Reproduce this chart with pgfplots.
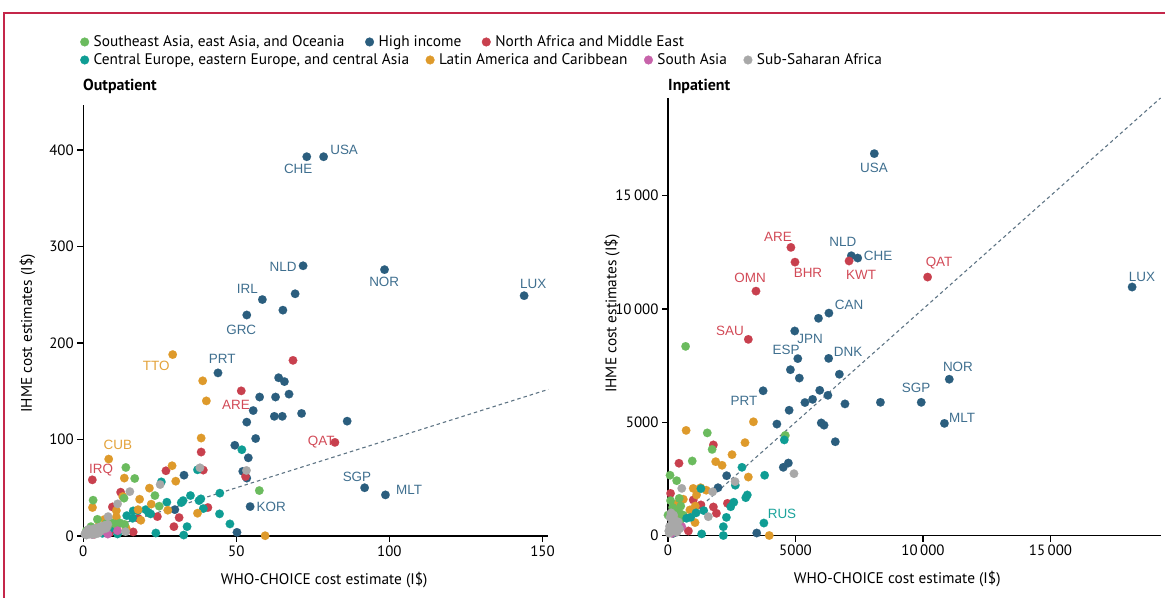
\documentclass[border=0pt]{standalone}
\usepackage{fontspec}
\setmainfont{PT Sans}
\newfontfamily\lab{Liberation Sans}
\usepackage{pgfplots}
\pgfplotsset{compat=1.18}
\definecolor{cSEA}{HTML}{6BBB5E}
\definecolor{cHI}{HTML}{2B5E7E}
\definecolor{cNAME}{HTML}{C8404E}
\definecolor{cCEE}{HTML}{0F9D94}
\definecolor{cLAC}{HTML}{DE9A2B}
\definecolor{cSA}{HTML}{C763AA}
\definecolor{cSSA}{HTML}{A8A8A8}
\definecolor{lHI}{HTML}{3F6F8F}
\definecolor{lNAME}{HTML}{D24A57}
\definecolor{lLAC}{HTML}{E3A23A}
\definecolor{lCEE}{HTML}{1BA39B}
\definecolor{cDash}{HTML}{5E7484}
\definecolor{cFrame}{HTML}{C4264A}
\tikzset{lbl/.style={font=\lab\fontsize{13.5}{14}\selectfont, inner sep=0pt}}
\pgfplotsset{
  base/.style={
    scale only axis,
    axis lines=left,
    axis line style={-, line width=1.1bp, black},
    tick align=outside,
    major tick length=6bp,
    tick style={line width=1.1bp, black},
    enlargelimits=false,
    clip=false,
    ticklabel style={font=\fontsize{15}{17}\selectfont},
    label style={font=\fontsize{15.4}{17}\selectfont},
    /pgf/number format/assume math mode=true,
    /pgf/number format/1000 sep={\,},
    /pgf/number format/min exponent for 1000 sep=4,
    scaled ticks=false,
  },
  pts/.style={only marks, mark=*, mark size=4.3bp, mark options={draw=#1, fill=#1, line width=0.1bp}},
  leg/.style={
    hide axis, scale only axis, width=465bp, height=431bp, xmin=0, xmax=1, ymin=0, ymax=1,
    legend columns=-1,
    legend image code/.code={\fill[##1] (0bp,0bp) circle (4.3bp);},
    legend style={draw=none, fill=none, inner sep=0pt, anchor=west,
      nodes={inner xsep=4.5bp, inner ysep=1bp, font=\fontsize{15.4}{17}\selectfont},
      /tikz/every even column/.append style={column sep=#1}},
  },
}
\begin{document}
\begin{tikzpicture}
\useasboundingbox (0,0) rectangle (1165bp,598bp);
\draw[cFrame, line width=1.2bp] (4bp,0bp) -- (4bp,585bp) -- (1165bp,585bp);
\node[anchor=west, inner sep=0pt, font=\bfseries\fontsize{16}{18}\selectfont] at (83bp,512bp) {Outpatient};
\node[anchor=west, inner sep=0pt, font=\bfseries\fontsize{16}{18}\selectfont] at (668bp,512bp) {Inpatient};

% legends
\begin{axis}[leg=16bp, at={(83.3bp,62bp)}, anchor=south west,
  legend style={at={(axis description cs:-0.0071,1.1462)}}]
\addlegendimage{cSEA}\addlegendentry{Southeast Asia, east Asia, and Oceania}
\addlegendimage{cHI}\addlegendentry{High income}
\addlegendimage{cNAME}\addlegendentry{North Africa and Middle East}
\end{axis}
\begin{axis}[leg=12bp, at={(83.3bp,62bp)}, anchor=south west,
  legend style={at={(axis description cs:-0.0071,1.1044)}}]
\addlegendimage{cCEE}\addlegendentry{Central Europe, eastern Europe, and central Asia}
\addlegendimage{cLAC}\addlegendentry{Latin America and Caribbean}
\addlegendimage{cSA}\addlegendentry{South Asia}
\addlegendimage{cSSA}\addlegendentry{Sub-Saharan Africa}
\end{axis}

% Outpatient
\begin{axis}[base, at={(83.3bp,62bp)}, anchor=south west, width=465bp, height=431bp,
  xmin=0, xmax=151.9, ymin=0, ymax=446.6,
  xtick={0,50,100,150}, ytick={0,100,200,300,400},
  xlabel={WHO-CHOICE cost estimate (I\$)}, ylabel={IHME cost estimates (I\$)},
  xlabel style={at={(axis description cs:0.518,-0.102)}, anchor=center},
  ylabel style={at={(axis description cs:-0.1204,0.47)}, anchor=center}]
\addplot[cDash, dash pattern=on 3.5bp off 3bp, line width=1.1bp] coordinates {(0,0) (151.9,151.9)};
\addplot[pts=cHI] coordinates {(73.0,393)(78.5,393)(71.8,280)(98.4,276)(144.0,249)(69.2,251)(58.5,245)(65.2,234)(53.4,229)(44.0,169)(63.8,164)(65.7,160)(57.6,144)(62.8,144)(67.2,147)(55.5,130)(53.4,118)(62.4,124)(65.0,124)(71.3,127)(86.2,119)(56.3,101)(49.5,94)(53.9,81)(52.1,67)(53.4,60)(54.5,30.5)(91.9,50)(98.7,42.6)(50.2,3.8)(32.9,63)(29.9,27.3)(5,4)};
\addplot[pts=cNAME] coordinates {(68.5,182)(51.6,150.4)(82.2,97)(38.5,87)(39.2,68.3)(27,67.6)(53,61.6)(2.95,58.2)(12.2,45.4)(9.5,30.1)(40.7,29.5)(17.9,18.4)(24.2,20.1)(31.3,19.1)(29.6,9.7)(16.3,4.2)(6.1,7.3)(3.6,2)(8.6,3.4)};
\addplot[pts=cCEE] coordinates {(51.8,89.4)(37.3,68.6)(25.5,56.1)(44.6,44.4)(35,41.9)(38.4,38.5)(32.6,36.7)(32,34.6)(37.8,36.7)(27.3,35)(16.3,26)(17.8,26.3)(20.4,27.3)(21.3,24.2)(22,22.9)(14.2,21.1)(16.1,18.4)(39.2,28.4)(44.5,22.9)(47.9,12.5)(33.9,9.7)(23.7,3.1)(32.8,1)(11.2,2.1)(6.2,2.8)(9,8)(4,4)};
\addplot[pts=cLAC] coordinates {(29.2,188)(39,160.8)(40.2,140)(38.5,101.5)(8.3,79.7)(29,72.8)(13.4,60)(30.2,56.8)(21.6,49.6)(12.9,40.9)(3.0,29.5)(18.4,38.1)(22.2,33)(10.8,26.3)(17.9,27.3)(7.0,17.3)(10.8,19.7)(18.8,16.3)(27.6,26.7)(37.3,23.6)(59.4,0.3)(8.9,13.2)(5,10)(14,8)};
\addplot[pts=cSEA] coordinates {(57.5,47.1)(13.9,71)(16.8,59.6)(3.2,37.1)(13.3,39.2)(23.4,41.9)(24.8,30.9)(4.6,17.3)(7.5,13)(9,14)(10.5,12.5)(12,13.5)(13.5,12)(8,10)(1,5.5)(2.5,9.7)(6,8)(11,11)};
\addplot[pts=cSA] coordinates {(6.7,5.5)(11.2,5.5)(3,1.5)(8,2)(5,4)};
\addplot[pts=cSSA] coordinates {(15.2,46)(25.1,53.3)(38.1,70.7)(53.3,67.9)(11.2,33.3)(13.8,4.5)(8.1,20.1)(0.5,2)(1,4)(1.5,6)(2,3)(2.5,5)(3,7)(3.5,4)(4,8)(4.5,6)(5,9)(5.5,5)(6,10)(6.5,7)(7,11)(7.5,8)(8,12)(1,1)(2,2)(3,1.5)(0.8,3)(1.8,7)(4,2)(5,3)};
\node[lbl, text=lHI] at (axis cs:85.2,400) {USA};
\node[lbl, text=lHI] at (axis cs:70.2,380) {CHE};
\node[lbl, text=lHI] at (axis cs:65.3,278.8) {NLD};
\node[lbl, text=lHI] at (axis cs:98.3,263) {NOR};
\node[lbl, text=lHI] at (axis cs:147,261) {LUX};
\node[lbl, text=lHI] at (axis cs:53.6,256) {IRL};
\node[lbl, text=lHI] at (axis cs:51.6,213.5) {GRC};
\node[lbl, text=lHI] at (axis cs:45.4,183.4) {PRT};
\node[lbl, text=lLAC] at (axis cs:23.8,176) {TTO};
\node[lbl, text=lNAME] at (axis cs:49.9,135.8) {ARE};
\node[lbl, text=lNAME] at (axis cs:77.7,97.4) {QAT};
\node[lbl, text=lLAC] at (axis cs:11.3,94.3) {CUB};
\node[lbl, text=lNAME] at (axis cs:5.8,68.4) {IRQ};
\node[lbl, text=lHI] at (axis cs:89.4,61.1) {SGP};
\node[lbl, text=lHI] at (axis cs:106.4,47.7) {MLT};
\node[lbl, text=lHI] at (axis cs:61.4,30) {KOR};
\end{axis}

% Inpatient
\begin{axis}[base, at={(668bp,62.5bp)}, anchor=south west, width=493bp, height=437.5bp,
  xmin=0, xmax=19333, ymin=0, ymax=19316,
  xtick={0,5000,10000,15000}, ytick={0,5000,10000,15000},
  xlabel={WHO-CHOICE cost estimate (I\$)}, ylabel={IHME cost estimates (I\$)},
  xlabel style={at={(axis description cs:0.465,-0.1006)}, anchor=center},
  ylabel style={at={(axis description cs:-0.1136,0.507)}, anchor=center}]
\addplot[cDash, dash pattern=on 3.5bp off 3bp, line width=1.1bp] coordinates {(0,0) (19316,19316)};
\addplot[pts=cHI] coordinates {(8090,16860)(7190,12350)(7440,12250)(6310,9820)(5900,9590)(4970,9030)(5090,7810)(6300,7820)(4800,7320)(5150,6950)(6720,7120)(3730,6390)(5950,6410)(6270,6190)(5670,6010)(5370,5870)(4750,5530)(6940,5810)(8330,5880)(9930,5880)(11030,6900)(10840,4950)(4270,4920)(6010,4970)(6120,4870)(6560,4140)(18200,10970)(4720,3200)(4520,3010)(2300,2640)(1960,2110)(3480,110)};
\addplot[pts=cNAME] coordinates {(4820,12720)(4980,12070)(7100,12120)(10180,11410)(3450,10790)(3150,8660)(1780,4000)(430,3190)(100,1860)(990,1570)(1780,1260)(1900,980)(2330,1420)(800,200)(210,100)(1290,1350)(500,900)(300,600)};
\addplot[pts=cLAC] coordinates {(710,4640)(3350,5020)(3020,4100)(2510,3570)(1870,3260)(2120,3100)(3150,2580)(990,2080)(1280,2110)(1120,1790)(1070,1300)(340,1390)(270,1200)(1060,570)(3970,0)(340,900)(860,1130)(600,1600)(1500,2000)};
\addplot[pts=cSEA] coordinates {(690,8350)(1540,4530)(1730,3800)(4600,4420)(950,3290)(80,2660)(340,2420)(100,1540)(0,900)(180,1240)(440,1640)(500,1300)(430,1040)(470,680)(250,500)(600,900)};
\addplot[pts=cCEE] coordinates {(3760,550)(3790,2660)(4560,4220)(2900,3010)(2640,2220)(2580,1470)(3110,1790)(3050,1670)(1290,2070)(2290,800)(2170,390)(2170,0)(1320,70)(730,760)(890,800)(2460,1270)(400,390)(200,100)(1100,1000)(1400,1100)};
\addplot[pts=cSA] coordinates {(540,390)(300,200)(150,100)};
\addplot[pts=cSSA] coordinates {(4940,2730)(2630,2380)(540,2080)(1750,1930)(1580,830)(50,100)(100,300)(150,500)(200,200)(250,700)(300,400)(80,800)(120,1000)(350,150)(400,600)(60,400)(180,650)(220,900)(30,200)(450,300)};
\node[lbl, text=lHI] at (axis cs:8080,16230) {USA};
\node[lbl, text=lNAME] at (axis cs:4310,13180) {ARE};
\node[lbl, text=lHI] at (axis cs:6860,12960) {NLD};
\node[lbl, text=lHI] at (axis cs:8240,12340) {CHE};
\node[lbl, text=lNAME] at (axis cs:5490,11590) {BHR};
\node[lbl, text=lNAME] at (axis cs:7570,11500) {KWT};
\node[lbl, text=lNAME] at (axis cs:10630,12030) {QAT};
\node[lbl, text=lNAME] at (axis cs:3220,11370) {OMN};
\node[lbl, text=lHI] at (axis cs:7100,10180) {CAN};
\node[lbl, text=lNAME] at (axis cs:2430,9030) {SAU};
\node[lbl, text=lHI] at (axis cs:5570,8680) {JPN};
\node[lbl, text=lHI] at (axis cs:4630,8190) {ESP};
\node[lbl, text=lHI] at (axis cs:7060,8100) {DNK};
\node[lbl, text=lHI] at (axis cs:11370,7440) {NOR};
\node[lbl, text=lHI] at (axis cs:9730,6510) {SGP};
\node[lbl, text=lHI] at (axis cs:2980,5940) {PRT};
\node[lbl, text=lHI] at (axis cs:11530,5190) {MLT};
\node[lbl, text=lHI] at (axis cs:18590,11410) {LUX};
\node[lbl, text=lCEE] at (axis cs:4470,950) {RUS};
\end{axis}
\end{tikzpicture}
\end{document}
